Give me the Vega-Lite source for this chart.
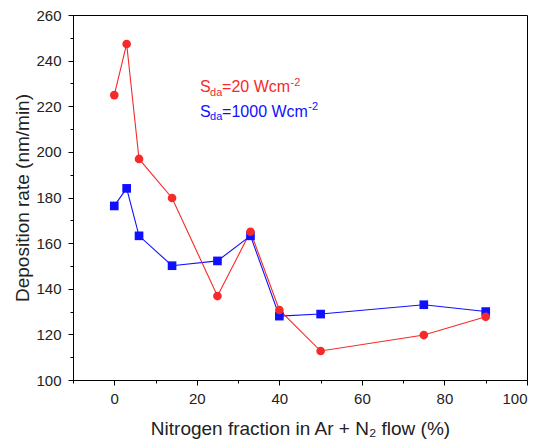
{
  "$schema": "https://vega.github.io/schema/vega-lite/v6.json",
  "width": 454,
  "height": 365,
  "autosize": {"type": "none"},
  "padding": {"left": 73, "top": 15, "right": 12, "bottom": 61},
  "background": "white",
  "config": {
    "font": "Liberation Sans",
    "view": {"stroke": "#000", "strokeWidth": 1},
    "axis": {
      "grid": false,
      "domainColor": "#000",
      "domainWidth": 1,
      "tickColor": "#000",
      "tickWidth": 1,
      "tickSize": 5,
      "labelFont": "Liberation Sans",
      "labelFontSize": 15,
      "labelColor": "#222",
      "titleFont": "Liberation Sans",
      "titleFontSize": 19,
      "titleFontWeight": "normal",
      "titleColor": "#222"
    }
  },
  "datasets": {
    "main": [
      {"x": 0, "y": 176.3, "series": "1000"},
      {"x": 3, "y": 184, "series": "1000"},
      {"x": 6, "y": 163.2, "series": "1000"},
      {"x": 14, "y": 150.1, "series": "1000"},
      {"x": 25, "y": 152.2, "series": "1000"},
      {"x": 33, "y": 163.2, "series": "1000"},
      {"x": 40, "y": 128, "series": "1000"},
      {"x": 50, "y": 128.9, "series": "1000"},
      {"x": 75, "y": 133, "series": "1000"},
      {"x": 90, "y": 130, "series": "1000"},
      {"x": 0, "y": 224.9, "series": "20"},
      {"x": 3, "y": 247.3, "series": "20"},
      {"x": 6, "y": 196.9, "series": "20"},
      {"x": 14, "y": 179.8, "series": "20"},
      {"x": 25, "y": 136.8, "series": "20"},
      {"x": 33, "y": 165, "series": "20"},
      {"x": 40, "y": 130.7, "series": "20"},
      {"x": 50, "y": 112.7, "series": "20"},
      {"x": 75, "y": 119.7, "series": "20"},
      {"x": 90, "y": 127.7, "series": "20"}
    ],
    "notes": [
      {"x": 20.8, "y": 226.2, "supx": 42.7, "s": "S", "sub": "da", "rest": "=20 Wcm", "sup": "-2", "series": "20"},
      {"x": 20.8, "y": 215.5, "supx": 47.0, "s": "S", "sub": "da", "rest": "=1000 Wcm", "sup": "-2", "series": "1000"}
    ]
  },
  "layer": [
    {
      "data": {"name": "main"},
      "mark": {"type": "point", "opacity": 0},
      "encoding": {
        "x": {"field": "x", "type": "quantitative", "scale": {"domain": [-10, 100], "nice": false, "zero": false},
              "axis": {"orient": "bottom", "values": [-10, 10, 30, 50, 70, 90], "labels": false, "domain": false, "tickSize": 3, "title": null}},
        "y": {"field": "y", "type": "quantitative", "scale": {"domain": [100, 260], "nice": false, "zero": false},
              "axis": {"orient": "left", "values": [110, 130, 150, 170, 190, 210, 230, 250], "labels": false, "domain": false, "tickSize": 3, "title": null}}
      }
    },
    {
      "data": {"name": "main"},
      "mark": {"type": "line", "strokeWidth": 1.1},
      "encoding": {
        "x": {"field": "x", "type": "quantitative",
              "axis": {"orient": "bottom", "values": [0, 20, 40, 60, 80, 100], "labelPadding": 6, "titlePadding": 13,
                       "title": "Nitrogen fraction in Ar + N₂ flow (%)"}},
        "y": {"field": "y", "type": "quantitative",
              "axis": {"orient": "left", "values": [100, 120, 140, 160, 180, 200, 220, 240, 260], "labelPadding": 7, "titlePadding": 3,
                       "title": "Deposition rate (nm/min)"}},
        "color": {"field": "series", "type": "nominal", "scale": {"domain": ["1000", "20"], "range": ["#1010ff", "#f52a2a"]}, "legend": null},
        "detail": {"field": "series"}
      }
    },
    {
      "data": {"name": "main"},
      "mark": {"type": "point", "filled": true, "opacity": 1, "strokeWidth": 0},
      "encoding": {
        "x": {"field": "x", "type": "quantitative", "axis": null},
        "y": {"field": "y", "type": "quantitative", "axis": null},
        "color": {"field": "series", "type": "nominal", "scale": {"domain": ["1000", "20"], "range": ["#0a0aff", "#f03c3c"]}, "legend": null},
        "shape": {"field": "series", "type": "nominal", "scale": {"domain": ["1000", "20"], "range": ["square", "circle"]}, "legend": null},
        "size": {"value": 75}
      }
    },
    {
      "data": {"name": "notes"},
      "mark": {"type": "text", "align": "left", "baseline": "alphabetic", "fontSize": 16},
      "encoding": {
        "x": {"field": "x", "type": "quantitative", "axis": null},
        "y": {"field": "y", "type": "quantitative", "axis": null},
        "text": {"field": "s"},
        "color": {"field": "series", "type": "nominal", "scale": {"domain": ["1000", "20"], "range": ["#2a2aff", "#ff2a2a"]}, "legend": null}
      }
    },
    {
      "data": {"name": "notes"},
      "mark": {"type": "text", "align": "left", "baseline": "alphabetic", "fontSize": 11, "dx": 10, "dy": 3.5},
      "encoding": {
        "x": {"field": "x", "type": "quantitative", "axis": null},
        "y": {"field": "y", "type": "quantitative", "axis": null},
        "text": {"field": "sub"},
        "color": {"field": "series", "type": "nominal", "scale": {"domain": ["1000", "20"], "range": ["#2a2aff", "#ff2a2a"]}, "legend": null}
      }
    },
    {
      "data": {"name": "notes"},
      "mark": {"type": "text", "align": "left", "baseline": "alphabetic", "fontSize": 16, "dx": 22},
      "encoding": {
        "x": {"field": "x", "type": "quantitative", "axis": null},
        "y": {"field": "y", "type": "quantitative", "axis": null},
        "text": {"field": "rest"},
        "color": {"field": "series", "type": "nominal", "scale": {"domain": ["1000", "20"], "range": ["#2a2aff", "#ff2a2a"]}, "legend": null}
      }
    },
    {
      "data": {"name": "notes"},
      "mark": {"type": "text", "align": "left", "baseline": "alphabetic", "fontSize": 11, "dy": -6.5},
      "encoding": {
        "x": {"field": "supx", "type": "quantitative", "axis": null},
        "y": {"field": "y", "type": "quantitative", "axis": null},
        "text": {"field": "sup"},
        "color": {"field": "series", "type": "nominal", "scale": {"domain": ["1000", "20"], "range": ["#2a2aff", "#ff2a2a"]}, "legend": null}
      }
    }
  ],
  "resolve": {"axis": {"x": "independent", "y": "independent"}}
}
